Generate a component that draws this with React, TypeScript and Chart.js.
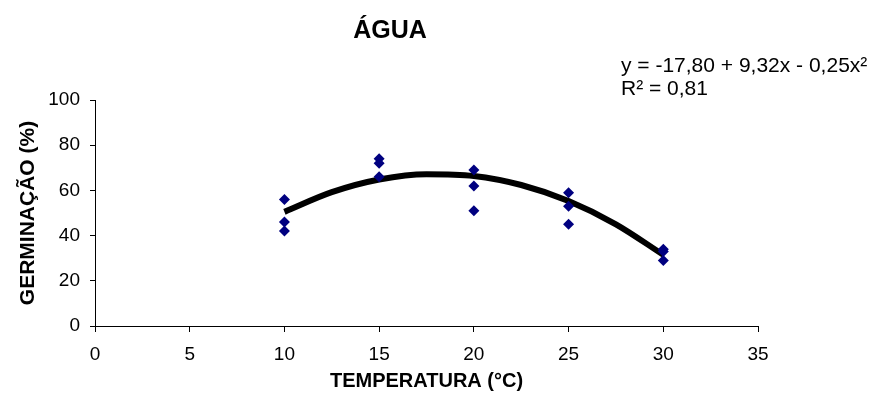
import React, { useEffect, useRef } from "react";
import { Chart, registerables } from "chart.js";

Chart.register(...registerables);

const titleText = "ÁGUA";
const xTitle = "TEMPERATURA (°C)";
const yTitle = "GERMINAÇÃO (%)";
const equationLines = ["y = -17,80 + 9,32x - 0,25x²", "R² = 0,81"];

const xTicks = [0, 5, 10, 15, 20, 25, 30, 35];
const yTicks = [0, 20, 40, 60, 80, 100];

// observed points
const temperatures = [10, 10, 10, 15, 15, 15, 20, 20, 20, 25, 25, 25, 30, 30, 30];
const germination = [56, 46, 42, 74, 72, 66, 69, 62, 51, 59, 53, 45, 34, 33, 29];

// trend line
const trendX = [10, 12.5, 15, 17.5, 20, 22.5, 25, 27.5, 30];
const trendY = [50.5, 59.2, 64.8, 67.2, 66.4, 62.4, 55.3, 45.0, 31.5];

const FONT = "'Liberation Sans', Arial, sans-serif";

export default function App() {
  const ref = useRef<HTMLCanvasElement | null>(null);

  useEffect(() => {
    document.body.style.margin = "0";
    const canvas = ref.current;
    if (!canvas) return;

    const textPlugin = {
      id: "texts",
      afterDraw(chart: any) {
        const ctx = chart.ctx;
        ctx.save();
        ctx.fillStyle = "#000";
        ctx.textBaseline = "middle";
        ctx.textAlign = "center";
        ctx.font = `bold 25px ${FONT}`;
        ctx.fillText(titleText, 390, 31);
        ctx.textAlign = "left";
        ctx.font = `21px ${FONT}`;
        ctx.fillText(equationLines[0], 621, 66);
        ctx.fillText(equationLines[1], 621, 89);
        ctx.restore();
      },
    };

    const chart = new Chart(canvas, {
      type: "scatter",
      data: {
        datasets: [
          {
            label: "pontos",
            data: temperatures.map((t, i) => ({ x: t, y: germination[i] })),
            pointStyle: "rectRot",
            pointRadius: 5.5,
            pointBackgroundColor: "#000080",
            pointBorderColor: "#000080",
            pointBorderWidth: 0,
            showLine: false,
          },
          {
            label: "tendência",
            data: trendX.map((t, i) => ({ x: t, y: trendY[i] })),
            showLine: true,
            borderColor: "#000",
            borderWidth: 6,
            pointRadius: 0,
            tension: 0.4,
            cubicInterpolationMode: "monotone",
          },
        ],
      },
      options: {
        responsive: false,
        animation: false,
        layout: { padding: { top: 100, right: 116, left: 0, bottom: 0 } },
        plugins: {
          legend: { display: false },
          tooltip: { enabled: false },
          title: { display: false },
        },
        scales: {
          x: {
            type: "linear",
            min: 0,
            max: 35,
            afterBuildTicks: (scale: any) => {
              scale.ticks = xTicks.map((v) => ({ value: v }));
            },
            afterFit: (scale: any) => {
              scale.height = 79;
            },
            grid: {
              display: true,
              drawOnChartArea: false,
              drawTicks: true,
              tickLength: 6,
              color: "#000",
            },
            border: { display: true, color: "#000", width: 1 },
            ticks: {
              color: "#000",
              padding: 11,
              font: { family: FONT, size: 19 },
              maxRotation: 0,
            },
            title: {
              display: true,
              text: xTitle,
              color: "#000",
              font: { family: FONT, size: 20, weight: "bold" },
              padding: { top: 0, bottom: 12 },
            },
          },
          y: {
            type: "linear",
            min: 0,
            max: 100,
            afterBuildTicks: (scale: any) => {
              scale.ticks = yTicks.map((v) => ({ value: v }));
            },
            afterFit: (scale: any) => {
              scale.width = 95;
            },
            grid: {
              display: true,
              drawOnChartArea: false,
              drawTicks: true,
              tickLength: 5,
              color: "#000",
            },
            border: { display: true, color: "#000", width: 1 },
            ticks: {
              color: "#000",
              padding: 10,
              font: { family: FONT, size: 19 },
            },
            title: {
              display: true,
              text: yTitle,
              color: "#000",
              font: { family: FONT, size: 21, weight: "bold" },
              padding: { top: 16, bottom: 0 },
            },
          },
        },
      },
      plugins: [textPlugin],
    } as any);

    return () => chart.destroy();
  }, []);

  return (
    <div style={{ width: 874, height: 405, background: "#fff" }}>
      <canvas ref={ref} width={874} height={405} style={{ display: "block" }} />
    </div>
  );
}
